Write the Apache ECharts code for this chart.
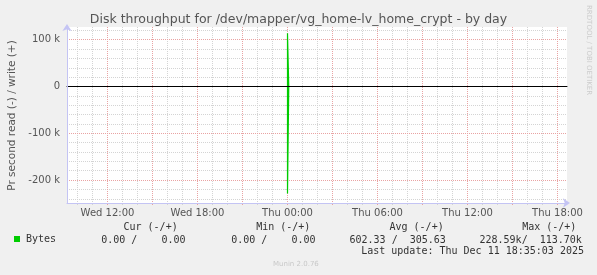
<!DOCTYPE html>
<html><head><meta charset="utf-8">
<script src="https://cdn.jsdelivr.net/npm/echarts@6/dist/echarts.min.js"></script>
<style>html,body{margin:0;padding:0;background:#f0f0f0}#c{width:597px;height:275px}</style>
</head><body><div id="c"></div>
<script>
// ---- data (hours relative to Thu 00:00) ----
const chartTitle = 'Disk throughput for /dev/mapper/vg_home-lv_home_crypt - by day';
const yAxisTitle = 'Pr second read (-) / write (+)';
const seriesName = 'Bytes';
const times     = [-14.6667, 0, 0.0833, 0.1667, 8.4167, 8.5, 8.5833, 10.5, 10.5833, 10.6667, 18.5833];
const writeVals = [0, 0, 113700, 0, 0, 0, 0, 0, 2200, 0, 0];
const readVals  = [0, 0, 228590, 0, 0, 3600, 0, 0, 0, 0, 0];
const xTickValues = [-12, -6, 0, 6, 12, 18];
const xTickLabels = ['Wed 12:00', 'Wed 18:00', 'Thu 00:00', 'Thu 06:00', 'Thu 12:00', 'Thu 18:00'];
const yTickValues = [-200000, -100000, 0, 100000];
const yTickLabels = ['-200 k', '-100 k', '0', '100 k'];
const statHeaders = ['Cur (-/+)', 'Min (-/+)', 'Avg (-/+)', 'Max (-/+)'];
const statValues  = ['0.00 /    0.00', '0.00 /    0.00', '602.33 /  305.63', '228.59k/  113.70k'];
const lastUpdate = 'Last update: Thu Dec 11 18:35:03 2025';
const munin = 'Munin 2.0.76';
const rrdtool = 'RRDTOOL / TOBI OETIKER';

// ---- layout ----
const L = 67, W = 500, T = 27, H = 176;
const viewStart = -14.7, viewEnd = viewStart + W / 15;
const pxPerH = W / (viewEnd - viewStart);
const zeroY = 86.5, K = 0.468 / 1000; // px per unit
const GREEN = '#00cc00', AXIS = '#c4c4f4', MINOR = '#d4d4d4', MAJOR = '#e9a3a3', TXT = '#555';
const mono = 'DejaVu Sans Mono', sans = 'DejaVu Sans';

function gridRect(ymin, ymax, xmin, xmax) {
  const left = xmin == null ? L : L + (xmin - viewStart) * pxPerH;
  const width = xmin == null ? W : (xmax - xmin) * pxPerH;
  const top = ymax == null ? T : zeroY - ymax * K;
  const height = ymax == null ? H : (ymax - ymin) * K;
  return { left, top, width, height };
}
const yFrameMax = (zeroY - T) / K, yFrameMin = -(T + H - zeroY) / K;
const hidden = { axisLine: { show: false }, axisTick: { show: false }, axisLabel: { show: false }, splitLine: { show: false } };

const grids = [
  Object.assign({ show: true, backgroundColor: '#fff', borderWidth: 0 }, gridRect()),       // frame
  gridRect(-240000, 120000),                 // horizontal minor + data
  gridRect(-200000, 100000),                 // horizontal major
  gridRect(null, null, -14, 18),             // vertical minor
  gridRect(null, null, -12, 18)              // vertical major
];

const xAxes = [
  Object.assign({}, hidden, { type: 'value', gridIndex: 0, min: viewStart, max: viewEnd, z: 6,
    axisLine: { show: true, onZero: false, symbol: ['none', 'arrow'], symbolSize: [7, 7], symbolOffset: [0, 3], lineStyle: { color: AXIS, width: 1 } } }),
  Object.assign({}, hidden, { type: 'value', gridIndex: 1, min: viewStart, max: viewEnd }),
  Object.assign({}, hidden, { type: 'value', gridIndex: 2, min: viewStart, max: viewEnd, z: 5,
    axisLine: { show: true, onZero: true, lineStyle: { color: '#000', width: 1 } } }),
  Object.assign({}, hidden, { type: 'value', gridIndex: 3, min: -14, max: 18, interval: 1, z: 0,
    axisTick: { show: true, length: 2, lineStyle: { color: MINOR } },
    splitLine: { show: true, lineStyle: { color: MINOR, type: [1, 1], width: 1 } } }),
  Object.assign({}, hidden, { type: 'value', gridIndex: 4, min: -12, max: 18, interval: 3, z: 1,
    axisTick: { show: true, length: 2, lineStyle: { color: MAJOR } },
    splitLine: { show: true, lineStyle: { color: MAJOR, type: [1, 1], width: 1 } },
    axisLabel: { show: true, margin: 5, showMinLabel: true, showMaxLabel: true, color: TXT, fontSize: 10, fontFamily: sans,
      formatter: v => { const i = xTickValues.indexOf(Math.round(v)); return i >= 0 ? xTickLabels[i] : ''; } } })
];
const yAxes = [
  Object.assign({}, hidden, { type: 'value', gridIndex: 0, min: yFrameMin, max: yFrameMax, z: 6,
    axisLine: { show: true, onZero: false, symbol: ['none', 'arrow'], symbolSize: [7, 7], symbolOffset: [0, 3], lineStyle: { color: AXIS, width: 1 } } }),
  Object.assign({}, hidden, { type: 'value', gridIndex: 1, min: -240000, max: 120000, interval: 20000, z: 0,
    axisTick: { show: true, length: 3, lineStyle: { color: MINOR } },
    splitLine: { show: true, lineStyle: { color: MINOR, type: [1, 1], width: 1 } } }),
  Object.assign({}, hidden, { type: 'value', gridIndex: 2, min: -200000, max: 100000, interval: 100000, z: 1,
    axisTick: { show: true, length: 3, lineStyle: { color: MAJOR } },
    splitLine: { show: true, lineStyle: { color: MAJOR, type: [1, 1], width: 1 } },
    axisLabel: { show: true, margin: 7, showMinLabel: true, showMaxLabel: true, color: TXT, fontSize: 10, fontFamily: sans,
      formatter: v => { const i = yTickValues.indexOf(v); return i >= 0 ? yTickLabels[i] : ''; } } }),
  Object.assign({}, hidden, { type: 'value', gridIndex: 3, min: 0, max: 1 }),
  Object.assign({}, hidden, { type: 'value', gridIndex: 4, min: 0, max: 1 })
];

const lineSeries = (vals, sign) => ({
  name: seriesName, type: 'line', xAxisIndex: 1, yAxisIndex: 1, step: 'start', symbol: 'none', z: 3,
  lineStyle: { color: GREEN, width: 1.2, join: 'miter', cap: 'butt' }, itemStyle: { color: GREEN }, animation: false,
  data: times.map((t, i) => [t, sign * vals[i]])
});

const statX = [123.5, 256.2, 389.5, 522.2];
const valX = [101.2, 231.2, 349.5, 479.5];
const graphics = [
  { type: 'text', x: 12, y: 115.5, rotation: Math.PI / 2,
    style: { text: yAxisTitle, fill: TXT, font: '10.5px "DejaVu Sans"', textAlign: 'center', textVerticalAlign: 'middle' } },
  { type: 'text', x: 588.5, y: 5, rotation: -Math.PI / 2,
    style: { text: rrdtool, fill: '#cccccc', font: '7px "DejaVu Sans"', textAlign: 'left', textVerticalAlign: 'middle' } },
  { type: 'text', x: 273, y: 264.5,
    style: { text: munin, fill: '#c8c8c8', font: '7px "DejaVu Sans"', textAlign: 'left', textVerticalAlign: 'middle' } },
  { type: 'text', x: 361.2, y: 251.3,
    style: { text: lastUpdate, fill: '#333', font: '10px "DejaVu Sans Mono"', textAlign: 'left', textVerticalAlign: 'middle' } }
];
statHeaders.forEach((h, i) => graphics.push({ type: 'text', x: statX[i], y: 227.3,
  style: { text: h, fill: '#333', font: '10px "DejaVu Sans Mono"', textAlign: 'left', textVerticalAlign: 'middle' } }));
statValues.forEach((v, i) => graphics.push({ type: 'text', x: valX[i], y: 240.3,
  style: { text: v, fill: '#333', font: '10px "DejaVu Sans Mono"', textAlign: 'left', textVerticalAlign: 'middle' } }));

const chart = echarts.init(document.getElementById('c'), null, { renderer: 'canvas' });
chart.setOption({
  backgroundColor: '#f0f0f0',
  animation: false,
  title: { text: chartTitle, left: 'center', top: 13, padding: 0,
    textStyle: { fontFamily: sans, fontSize: 12.5, fontWeight: 'normal', color: TXT } },
  legend: { data: [seriesName], left: 14, top: 234, padding: 0, icon: 'rect', itemWidth: 6, itemHeight: 6, itemGap: 0,
    selectedMode: false, textStyle: { fontFamily: mono, fontSize: 10, color: '#333', padding: [0, 0, 0, 1] } },
  grid: grids, xAxis: xAxes, yAxis: yAxes,
  series: [lineSeries(writeVals, 1), lineSeries(readVals, -1)],
  graphic: graphics
});
</script></body></html>
